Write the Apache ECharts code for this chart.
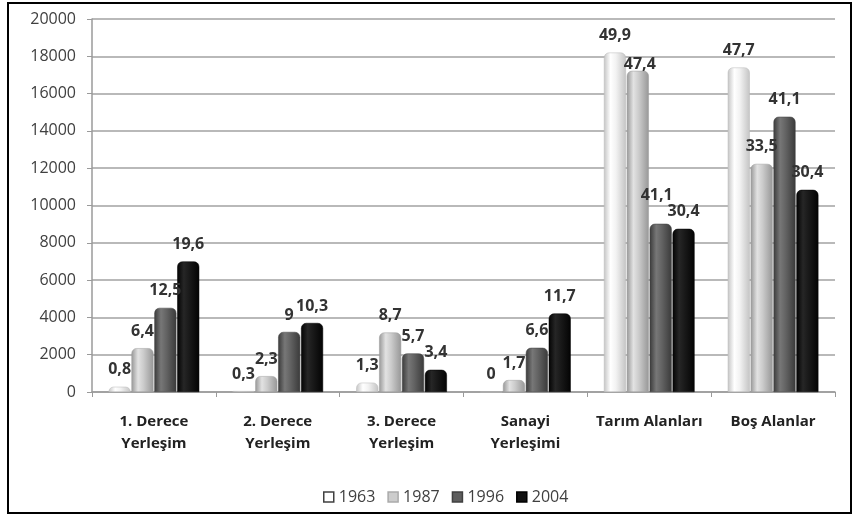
<!DOCTYPE html>
<html>
<head>
<meta charset="utf-8">
<script src="https://cdn.jsdelivr.net/npm/echarts@6/dist/echarts.min.js"></script>
<style>
html,body{margin:0;padding:0;background:#fff;}
#frame{position:absolute;left:7px;top:2px;width:841px;height:508px;border:2px solid #000;box-sizing:content-box;}
#chart{position:absolute;left:0;top:0;width:854px;height:517px;}
</style>
</head>
<body>
<div id="frame"></div>
<div id="chart"></div>
<script>
const categories = ['1. Derece\nYerleşim', '2. Derece\nYerleşim', '3. Derece\nYerleşim', 'Sanayi\nYerleşimi', 'Tarım Alanları', 'Boş Alanlar'];
const years = ['1963', '1987', '1996', '2004'];
const v1963 = [280, 50, 500, 0, 18200, 17400];
const v1987 = [2350, 850, 3190, 640, 17220, 12230];
const v1996 = [4510, 3220, 2070, 2370, 9020, 14760];
const v2004 = [7000, 3700, 1190, 4210, 8750, 10840];
const p1963 = ['0,8', '0,3', '1,3', '0', '49,9', '47,7'];
const p1987 = ['6,4', '2,3', '8,7', '1,7', '47,4', '33,5'];
const p1996 = ['12,5', '9', '5,7', '6,6', '41,1', '41,1'];
const p2004 = ['19,6', '10,3', '3,4', '11,7', '30,4', '30,4'];
const yTicks = [0, 2000, 4000, 6000, 8000, 10000, 12000, 14000, 16000, 18000, 20000];

const values = [v1963, v1987, v1996, v2004];
const pcts = [p1963, p1987, p1996, p2004];

// label placement tweaks (style only), keyed "series-category"
const labelShift = {'1-4': [2, 11], '2-4': [-4, -11]};

function grad(edge, mid, hi) {
  return new echarts.graphic.LinearGradient(0, 0, 1, 0, [
    {offset: 0, color: edge},
    {offset: 0.3, color: hi},
    {offset: 0.55, color: mid},
    {offset: 1, color: edge}
  ]);
}
const styles = [
  {color: grad('#c4c4c4', '#f2f2f2', '#ffffff'), borderColor: '#b8b8b8', legend: '#ffffff', lborder: '#404040'},
  {color: grad('#979797', '#cbcbcb', '#e2e2e2'), borderColor: '#9c9c9c', legend: '#cccccc', lborder: '#aaaaaa'},
  {color: grad('#3a3a3a', '#636363', '#777777'), borderColor: '#404040', legend: '#5e5e5e', lborder: '#404040'},
  {color: grad('#030303', '#191919', '#262626'), borderColor: '#000', legend: '#111111', lborder: '#000'}
];

const chart = echarts.init(document.getElementById('chart'));
chart.setOption({
  animation: false,
  textStyle: {fontFamily: 'Open Sans'},
  grid: {left: 92, right: 19, top: 19, bottom: 125},
  legend: {
    top: 484,
    left: 318,
    itemWidth: 10,
    itemHeight: 10,
    itemGap: 12,
    icon: 'rect',
    textStyle: {fontSize: 16, color: '#404040', fontFamily: 'Open Sans'},
    data: years.map((y, i) => ({name: y, itemStyle: {color: styles[i].legend, borderColor: styles[i].lborder, borderWidth: 1.5}}))
  },
  xAxis: {
    type: 'category',
    data: categories,
    axisLine: {lineStyle: {color: '#9a9a9a', width: 1.5}},
    axisTick: {show: true, length: 5, lineStyle: {color: '#9a9a9a'}},
    axisLabel: {fontSize: 15, fontWeight: 'bold', color: '#222', lineHeight: 22, margin: 19, interval: 0, fontFamily: 'Open Sans'}
  },
  yAxis: {
    type: 'value',
    min: 0, max: 20000, interval: 2000,
    axisLine: {show: true, lineStyle: {color: '#9a9a9a', width: 1.5}},
    axisTick: {show: true, length: 5, lineStyle: {color: '#9a9a9a'}},
    axisLabel: {fontSize: 16, color: '#404040', margin: 16, fontFamily: 'Open Sans', formatter: v => yTicks.includes(v) ? String(v) : ''},
    splitLine: {lineStyle: {color: '#a2a2a2', width: 1.6}}
  },
  series: years.map((y, i) => ({
    name: y,
    type: 'bar',
    data: values[i].map((v, j) => {
      const s = labelShift[i + '-' + j];
      return s ? {value: v, label: {offset: s}} : v;
    }),
    barWidth: 22,
    barGap: '4%',
    itemStyle: {color: styles[i].color, borderColor: styles[i].borderColor, borderWidth: 0.5, borderRadius: [5, 5, 0, 0]},
    label: {
      show: true,
      position: 'top',
      distance: 9,
      fontSize: 16,
      fontWeight: 'bold',
      color: '#333',
      fontFamily: 'Open Sans',
      formatter: p => pcts[i][p.dataIndex]
    }
  }))
});
</script>
</body>
</html>
